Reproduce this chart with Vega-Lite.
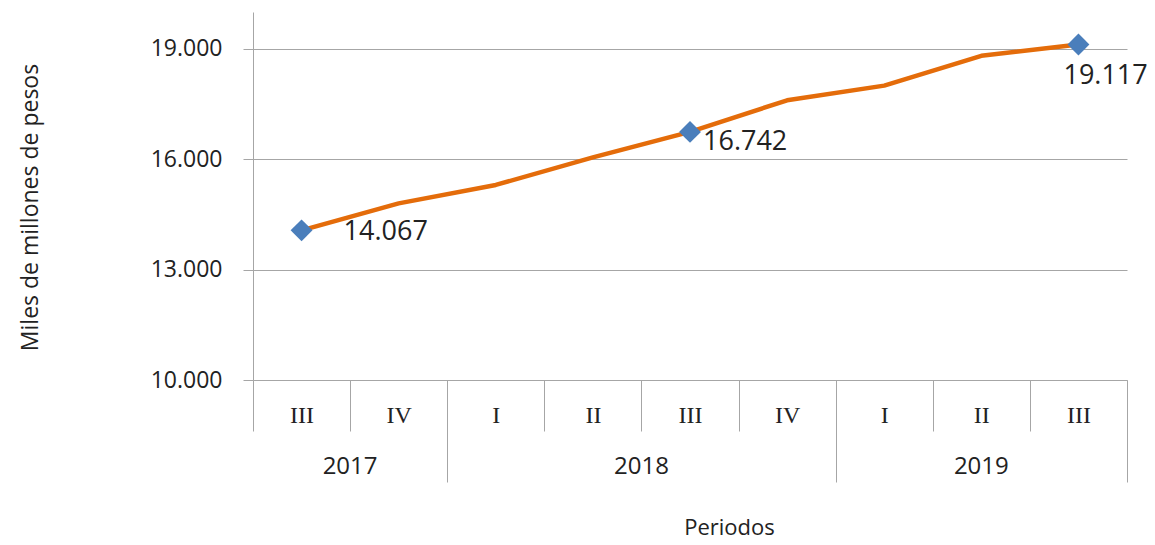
{
  "$schema": "https://vega.github.io/schema/vega-lite/v6.json",
  "width": 874,
  "height": 368,
  "autosize": {"type": "none"},
  "padding": {"left": 253, "top": 12, "right": 28, "bottom": 165},
  "background": "white",
  "config": {
    "locale": {"number": {"decimal": ",", "thousands": ".", "grouping": [3], "currency": ["$", ""]}},
    "view": {"stroke": null},
    "font": "Open Sans"
  },
  "data": {
    "values": [
      {"periodo": "2017-III", "anio": "2017", "trimestre": "III", "valor": 14067},
      {"periodo": "2017-IV", "anio": "2017", "trimestre": "IV", "valor": 14800},
      {"periodo": "2018-I", "anio": "2018", "trimestre": "I", "valor": 15300},
      {"periodo": "2018-II", "anio": "2018", "trimestre": "II", "valor": 16050},
      {"periodo": "2018-III", "anio": "2018", "trimestre": "III", "valor": 16742},
      {"periodo": "2018-IV", "anio": "2018", "trimestre": "IV", "valor": 17600},
      {"periodo": "2019-I", "anio": "2019", "trimestre": "I", "valor": 18000},
      {"periodo": "2019-II", "anio": "2019", "trimestre": "II", "valor": 18810},
      {"periodo": "2019-III", "anio": "2019", "trimestre": "III", "valor": 19117}
    ]
  },
  "encoding": {
    "y": {
      "field": "valor",
      "type": "quantitative",
      "scale": {"domain": [10000, 20000], "nice": false, "zero": false},
      "axis": {
        "values": [10000, 13000, 16000, 19000],
        "format": ",.0f",
        "grid": true,
        "gridColor": "#A6A6A6",
        "gridWidth": 1,
        "domainColor": "#A6A6A6",
        "tickColor": "#A6A6A6",
        "tickSize": 10,
        "labelFont": "Open Sans",
        "labelFontSize": 23,
        "labelPadding": 21,
        "labelColor": "#222222",
        "title": "Miles de millones de pesos",
        "titleFont": "Open Sans",
        "titleFontSize": 23,
        "titleFontWeight": "normal",
        "titleColor": "#222222",
        "titleX": -223,
        "titleY": 195,
        "titleAngle": -90,
        "titleAlign": "center",
        "titleBaseline": "middle"
      }
    }
  },
  "layer": [
    {
      "mark": {"type": "line", "color": "#E46C0A", "strokeWidth": 4.5, "strokeJoin": "round", "strokeCap": "round"},
      "encoding": {
        "x": {
          "field": "periodo",
          "type": "ordinal",
          "scale": {"type": "band", "domain": ["2017-III", "2017-IV", "2018-I", "2018-II", "2018-III", "2018-IV", "2019-I", "2019-II", "2019-III"], "paddingInner": 0, "paddingOuter": 0},
          "axis": {
            "orient": "bottom",
            "title": null,
            "grid": false,
            "tickBand": "extent",
            "tickSize": {"condition": {"test": "datum.index == 1 || datum.value == '2017-IV' || datum.value == '2018-IV' || datum.value == '2019-III'", "value": 102}, "value": 51},
            "tickColor": "#A6A6A6",
            "tickWidth": 1,
            "domainColor": "#A6A6A6",
            "labelExpr": "split(datum.value, '-')[1]",
            "labelFont": "Liberation Serif",
            "labelFontSize": 24,
            "labelColor": "#222222",
            "labelAngle": 0,
            "labelBaseline": "middle",
            "labelPadding": {"condition": {"test": "datum.value == '2017-IV' || datum.value == '2018-IV' || datum.value == '2019-III'", "value": -67}, "value": -16}
          }
        }
      }
    },
    {
      "transform": [{"filter": "datum.trimestre == 'III'"}],
      "mark": {"type": "point", "shape": "diamond", "filled": true, "size": 480, "color": "#4A7EBB", "opacity": 1},
      "encoding": {
        "x": {
          "field": "periodo",
          "type": "ordinal",
          "scale": {"type": "band", "domain": ["2017-III", "2017-IV", "2018-I", "2018-II", "2018-III", "2018-IV", "2019-I", "2019-II", "2019-III"], "paddingInner": 0, "paddingOuter": 0},
          "axis": {
            "orient": "bottom",
            "values": ["2017-IV", "2018-III", "2019-II"],
            "ticks": false,
            "domain": false,
            "grid": false,
            "labelExpr": "split(datum.value, '-')[0]",
            "labelOffset": {"condition": {"test": "datum.value == '2019-II'", "value": 0}, "value": -48.6},
            "labelFont": "Open Sans",
            "labelFontSize": 24,
            "labelColor": "#222222",
            "labelAngle": 0,
            "labelBaseline": "middle",
            "labelPadding": 86,
            "title": "Periodos",
            "titleFont": "Open Sans",
            "titleFontSize": 22,
            "titleFontWeight": "normal",
            "titleColor": "#222222",
            "titleX": 476,
            "titleY": 147,
            "titleAlign": "center",
            "titleBaseline": "middle"
          }
        }
      }
    },
    {
      "transform": [{"filter": "datum.periodo == '2017-III'"}],
      "mark": {"type": "text", "align": "left", "baseline": "middle", "dx": 42, "dy": 2, "fontSize": 27, "font": "Open Sans", "color": "#222222"},
      "encoding": {
        "x": {"field": "periodo", "type": "ordinal", "scale": {"type": "band", "domain": ["2017-III", "2017-IV", "2018-I", "2018-II", "2018-III", "2018-IV", "2019-I", "2019-II", "2019-III"], "paddingInner": 0, "paddingOuter": 0}, "axis": null},
        "text": {"field": "valor", "type": "quantitative", "format": ",.0f"}
      }
    },
    {
      "transform": [{"filter": "datum.periodo == '2018-III'"}],
      "mark": {"type": "text", "align": "left", "baseline": "middle", "dx": 13, "dy": 10, "fontSize": 27, "font": "Open Sans", "color": "#222222"},
      "encoding": {
        "x": {"field": "periodo", "type": "ordinal", "scale": {"type": "band", "domain": ["2017-III", "2017-IV", "2018-I", "2018-II", "2018-III", "2018-IV", "2019-I", "2019-II", "2019-III"], "paddingInner": 0, "paddingOuter": 0}, "axis": null},
        "text": {"field": "valor", "type": "quantitative", "format": ",.0f"}
      }
    },
    {
      "transform": [{"filter": "datum.periodo == '2019-III'"}],
      "mark": {"type": "text", "align": "left", "baseline": "middle", "dx": -15, "dy": 32, "fontSize": 27, "font": "Open Sans", "color": "#222222"},
      "encoding": {
        "x": {"field": "periodo", "type": "ordinal", "scale": {"type": "band", "domain": ["2017-III", "2017-IV", "2018-I", "2018-II", "2018-III", "2018-IV", "2019-I", "2019-II", "2019-III"], "paddingInner": 0, "paddingOuter": 0}, "axis": null},
        "text": {"field": "valor", "type": "quantitative", "format": ",.0f"}
      }
    }
  ],
  "resolve": {"axis": {"x": "independent"}}
}
